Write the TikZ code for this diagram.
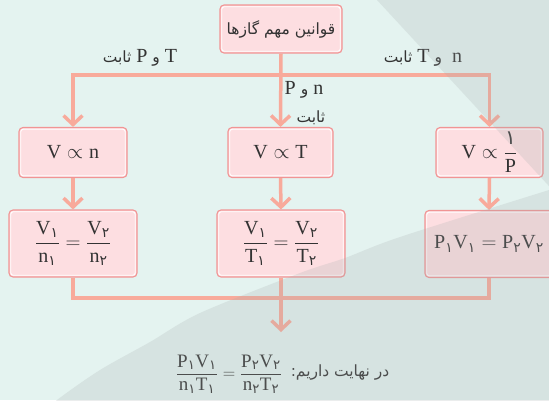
\documentclass[tikz,border=0pt]{standalone}
\usepackage{amsmath}
\usepackage{fontspec}
\setmainfont{Liberation Serif}
\newfontfamily\fa[Script=Arabic]{DejaVu Sans}
\TeXXeTstate=1
\usetikzlibrary{arrows.meta}
\definecolor{bgc}{RGB}{228,243,240}
\definecolor{shadec}{RGB}{165,172,172}
\definecolor{boxfill}{RGB}{253,222,225}
\definecolor{boxline}{RGB}{241,148,148}
\definecolor{connc}{RGB}{248,170,155}
\definecolor{textc}{RGB}{51,51,51}
\newcommand{\pd}[1]{\text{\fa #1}}
\newcommand{\fatxt}[1]{{\fa\fontsize{15.5}{18}\selectfont\beginR #1\endR}}
\begin{document}
\begin{tikzpicture}[x=1pt,y=-1pt,
  box/.style={draw=boxline, fill=boxfill, line width=1.1pt, rounded corners=4pt, inner sep=0pt, text=textc, font=\fontsize{20}{24}\selectfont},
  innerline/.style={draw=white, line width=0.9pt, rounded corners=2.5pt},
  conn/.style={draw=connc, line width=3.5pt},
  arr/.style={conn, -{Straight Barb[length=9pt,width=19pt]}},
  lbl/.style={text=textc, inner sep=0pt, font=\fontsize{20}{24}\selectfont},
]
\fill[bgc] (0,0) rectangle (549,400);
\useasboundingbox (0,0) rectangle (549,400);
\clip (0,0) rectangle (549,400);

% boxes
\node[box, minimum width=122pt, minimum height=48pt, font=\fa\fontsize{15.5}{18}\selectfont] (top) at (281,29) {\beginR قوانین مهم گازها\endR};
\node[box, minimum width=108pt, minimum height=50pt] (b1) at (73,152.5) {$\mathrm{V}\propto\mathrm{n}$};
\node[box, minimum width=105pt, minimum height=50pt] (b2) at (280.5,152.5) {$\mathrm{V}\propto\mathrm{T}$};
\node[box, minimum width=107pt, minimum height=50pt] (b3) at (489.5,152.5) {$\mathrm{V}\propto\dfrac{\pd{۱}}{\mathrm{P}}$};
\node[box, minimum width=128pt, minimum height=67pt] (c1) at (73,243.5) {$\dfrac{\mathrm{V}_{\pd{۱}}}{\mathrm{n}_{\pd{۱}}}=\dfrac{\mathrm{V}_{\pd{۲}}}{\mathrm{n}_{\pd{۲}}}$};
\node[box, minimum width=128pt, minimum height=67pt] (c2) at (281,243.5) {$\dfrac{\mathrm{V}_{\pd{۱}}}{\mathrm{T}_{\pd{۱}}}=\dfrac{\mathrm{V}_{\pd{۲}}}{\mathrm{T}_{\pd{۲}}}$};
\node[box, minimum width=128pt, minimum height=67pt] (c3) at (489,244) {$\mathrm{P}_{\pd{۱}}\mathrm{V}_{\pd{۱}}=\mathrm{P}_{\pd{۲}}\mathrm{V}_{\pd{۲}}$};
\foreach \n in {top,b1,b2,b3,c1,c2,c3}
  \draw[innerline] ([shift={(2.3pt,-2.3pt)}]\n.north west) rectangle ([shift={(-2.3pt,2.3pt)}]\n.south east);

% labels
\node[lbl] (lt) at (140,58) {\fatxt{ثابت} P \fatxt{و} T};
\node[lbl] (rt) at (423,58) {\fatxt{ثابت} T \fatxt{و}\ \ n};
\node[lbl] (ct) at (304,90) {P \fatxt{و} n};
\node[lbl] (cb) at (311,118) {\fatxt{ثابت}};

% final
\node[lbl, font=\fontsize{19}{23}\selectfont] (fin) at (229,374) {$\dfrac{\mathrm{P}_{\pd{۱}}\mathrm{V}_{\pd{۱}}}{\mathrm{n}_{\pd{۱}}\mathrm{T}_{\pd{۱}}}=\dfrac{\mathrm{P}_{\pd{۲}}\mathrm{V}_{\pd{۲}}}{\mathrm{n}_{\pd{۲}}\mathrm{T}_{\pd{۲}}}$};
\node[lbl] (finl) at (340,372) {\fatxt{در نهایت داریم:}};

% connectors
\coordinate (j) at (281,75);
\coordinate (k) at (281,298);
\coordinate (m) at (281,332);
\draw[conn] (b1.north |- j) -- (b3.north |- j);
\draw[arr] (top.south) -- (b2.north);
\draw[arr] (j) -| (b1.north);
\draw[arr] (j) -| (b3.north);
\draw[arr] (b1.south) -- (c1.north);
\draw[arr] (b2.south) -- (c2.north);
\draw[arr] (b3.south) -- (c3.north);
\draw[conn] (c1.south) |- (k) -| (c3.south);
\draw[arr] (c2.south) -- (m);

% gray overlay
\fill[shadec, opacity=0.22] (377,0) -- (560,0) -- (560,198) -- cycle;
\fill[shadec, opacity=0.22] plot[smooth] coordinates {(560,187) (549,190) (400,237) (345,258) (300,273) (200,313) (150,342) (100,370) (57,400) (35,420)} -- (560,420) -- cycle;
\end{tikzpicture}
\end{document}
